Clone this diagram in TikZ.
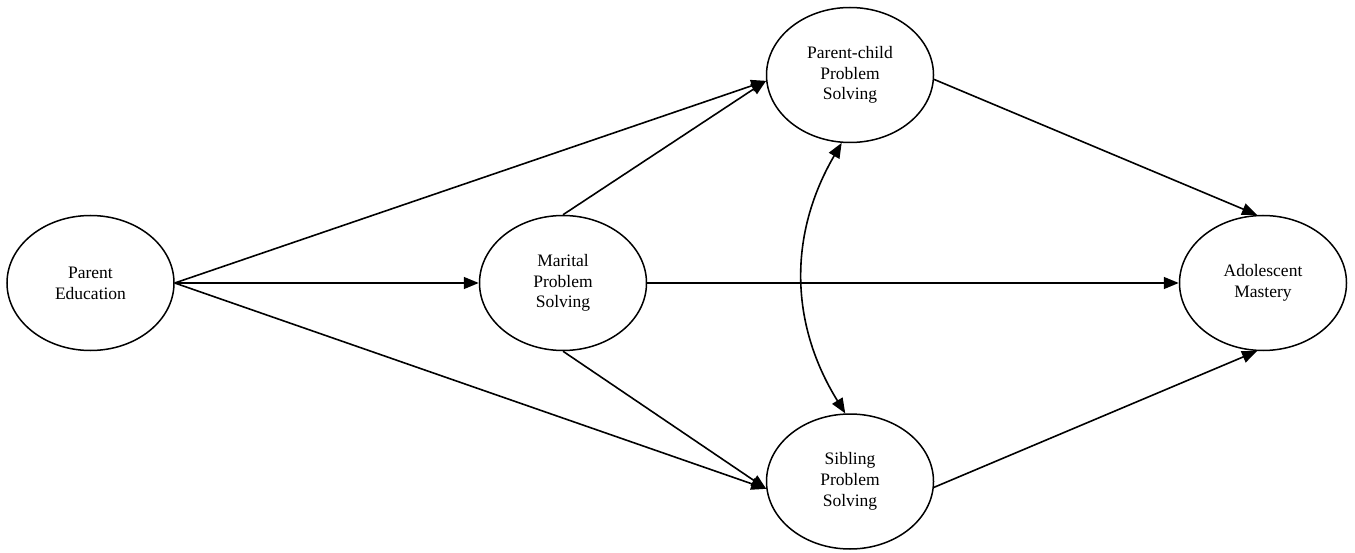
\documentclass[tikz,border=0pt]{standalone}
\usepackage{fontspec}
\setmainfont{Liberation Serif}
\usetikzlibrary{shapes.geometric,arrows.meta}
\begin{document}
\begin{tikzpicture}[x=1pt,y=-1pt,
  var/.style={draw,ellipse,line width=1.5pt,minimum width=167pt,minimum height=135pt,inner sep=0pt,
    align=center,font=\fontsize{17.5}{20.8}\selectfont},
  conn/.style={line width=1.6pt,-{Triangle[length=15pt,width=12pt]}},
  dconn/.style={line width=1.6pt,{Triangle[length=15pt,width=12pt]}-{Triangle[length=15pt,width=12pt]}}]
\useasboundingbox (0,0) rectangle (1355,553);
\node[var] (pe) at (90.5,283) {Parent\\Education};
\node[var] (ms) at (563,283) {Marital\\Problem\\Solving};
\node[var] (pc) at (850,75) {Parent-child\\Problem\\Solving};
\node[var] (sb) at (850,481.5) {Sibling\\Problem\\Solving};
\node[var] (am) at (1263,283) {Adolescent\\Mastery};
\draw[conn] (pe.east) -- (pc.184);
\draw[conn] (pe.east) -- (ms.west);
\draw[conn] (pe.east) -- (sb.185);
\draw[conn] (ms.north) -- (pc.184);
\draw[conn] (ms.south) -- (sb.185);
\draw[conn] (ms.east) -- (am.west);
\draw[conn] (pc.-3) -- (am.95);
\draw[conn] (sb.-4) -- (am.265);
\draw[dconn] (pc.263) to[bend right=31] (sb.94);
\end{tikzpicture}
\end{document}
